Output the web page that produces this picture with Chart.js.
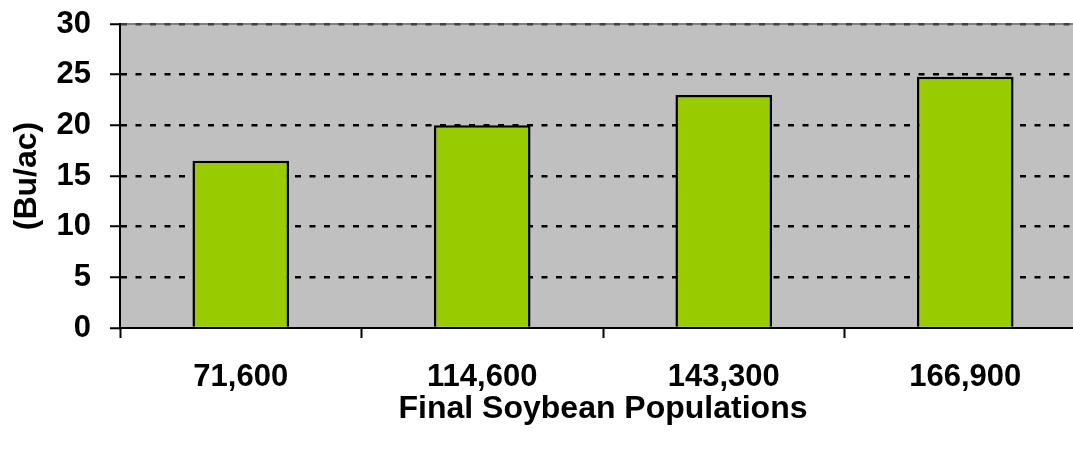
<!DOCTYPE html>
<html>
<head>
<meta charset="utf-8">
<script src="https://cdn.jsdelivr.net/npm/chart.js@4/dist/chart.umd.min.js"></script>
<style>
  html, body { margin: 0; padding: 0; background: #ffffff; overflow: hidden; }
  #wrap { position: relative; width: 1100px; height: 450px; }
</style>
</head>
<body>
<div id="wrap"><canvas id="chart"></canvas></div>
<script>
// Yield by final plant population
const populations = ['71,600', '114,600', '143,300', '166,900'];
const yieldBuAc = [16.5, 20.0, 23.0, 24.8];
const yMin = 0;
const yMax = 30;
const yStep = 5;

const FONT = "'Liberation Sans', Arial, sans-serif";

// Grey plot background and its top border
const plotBackground = {
  id: 'plotBackground',
  beforeDraw(chart) {
    const { ctx, chartArea: a } = chart;
    ctx.save();
    ctx.fillStyle = '#C0C0C0';
    ctx.fillRect(a.left, a.top, a.right - a.left, a.bottom - a.top);
    ctx.strokeStyle = '#808080';
    ctx.lineWidth = 2;
    ctx.beginPath();
    ctx.moveTo(a.left, a.top);
    ctx.lineTo(a.right, a.top);
    ctx.stroke();
    ctx.restore();
  }
};

function gridColor(c) {
  if (!c.tick) return '#000000';
  if (c.tick.value === yMin) return 'rgba(0,0,0,0)';
  if (c.tick.value === yMax) return '#404040';
  return '#000000';
}

new Chart(document.getElementById('chart'), {
  type: 'bar',
  data: {
    labels: populations,
    datasets: [{
      data: yieldBuAc,
      backgroundColor: '#99CC00',
      borderColor: '#000000',
      borderWidth: 2.5,
      barPercentage: 0.4,
      categoryPercentage: 1.0
    }]
  },
  options: {
    responsive: true,
    maintainAspectRatio: false,
    animation: false,
    events: [],
    layout: { padding: { top: 24, right: 14, bottom: 0, left: 0 } },
    plugins: {
      legend: { display: false },
      tooltip: { enabled: false }
    },
    scales: {
      x: {
        offset: true,
        grid: {
          display: true,
          offset: true,
          drawOnChartArea: false,
          drawTicks: true,
          tickLength: 10,
          tickColor: '#000000',
          tickWidth: 2
        },
        border: { display: true, color: '#000000', width: 2 },
        ticks: {
          color: '#000000',
          padding: 21,
          maxRotation: 0,
          font: { family: FONT, size: 31, weight: 'bold' }
        },
        title: {
          display: true,
          text: 'Final Soybean Populations',
          color: '#000000',
          padding: { top: 0, bottom: 22 },
          font: { family: FONT, size: 32, weight: 'bold' }
        },
        afterFit(scale) {
          scale.height = 122;
          scale.paddingLeft = 0;
          scale.paddingRight = 0;
        }
      },
      y: {
        min: yMin,
        max: yMax,
        ticks: {
          stepSize: yStep,
          color: '#000000',
          padding: 19,
          font: { family: FONT, size: 31, weight: 'bold' }
        },
        grid: {
          display: true,
          color: gridColor,
          lineWidth: 2.5,
          drawTicks: true,
          tickLength: 10,
          tickColor: '#000000',
          tickWidth: 2,
          tickBorderDash: []
        },
        border: { display: true, color: '#000000', width: 2, dash: [6, 8.5] },
        title: {
          display: true,
          text: '(Bu/ac)',
          color: '#000000',
          padding: { top: 8, bottom: 0 },
          font: { family: FONT, size: 32, weight: 'bold' }
        },
        afterFit(scale) {
          scale.width = 120;
          scale.paddingTop = 0;
          scale.paddingBottom = 0;
        }
      }
    }
  },
  plugins: [plotBackground]
});
</script>
</body>
</html>
